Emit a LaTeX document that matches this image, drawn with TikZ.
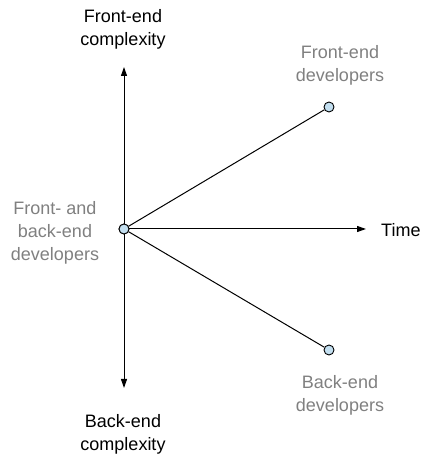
\documentclass[tikz,border=0pt]{standalone}
\usepackage{fontspec}
\setmainfont{Liberation Sans}
\usetikzlibrary{arrows.meta}
\definecolor{dotblue}{HTML}{C3DFF0}
\definecolor{labelgray}{HTML}{808080}

\begin{document}
\begin{tikzpicture}[x=1pt, y=1pt,
	dot/.style={circle, draw, line width=0.9pt, fill=dotblue, inner sep=0pt, minimum size=10pt},
	axis/.style={line width=1pt, -{Triangle[length=9pt,width=6pt]}},
	txt/.style={align=center, inner sep=0pt, anchor=north, font=\fontsize{18}{23}\selectfont},
	gray txt/.style={txt, text=labelgray}]
\useasboundingbox (0,0) rectangle (422,457);
\coordinate (up) at (124,390);
\coordinate (down) at (124,69);
\coordinate (time) at (366,228);
\node[dot] (both) at (124,228) {};
\node[dot] (front) at (329,350) {};
\node[dot] (back) at (329,107) {};
\draw[axis, {Triangle[length=9pt,width=6pt]}-{Triangle[length=9pt,width=6pt]}] (down) -- (up);
\draw[axis] (both) -- (time);
\draw[line width=1pt] (both) -- (front);
\draw[line width=1pt] (both) -- (back);
\node[dot] at (both) {};
\node[txt] (fec) at (123,448) {Front-end\\complexity};
\node[txt] (bec) at (123,43) {Back-end\\complexity};
\node[txt, anchor=base west] (timelbl) at (381,220) {Time};
\node[gray txt] (fedev) at (340,412) {Front-end\\developers};
\node[gray txt] (bedev) at (340,82) {Back-end\\developers};
\node[gray txt] (bothdev) at (55,256) {Front- and\\back-end\\developers};
\end{tikzpicture}
\end{document}
